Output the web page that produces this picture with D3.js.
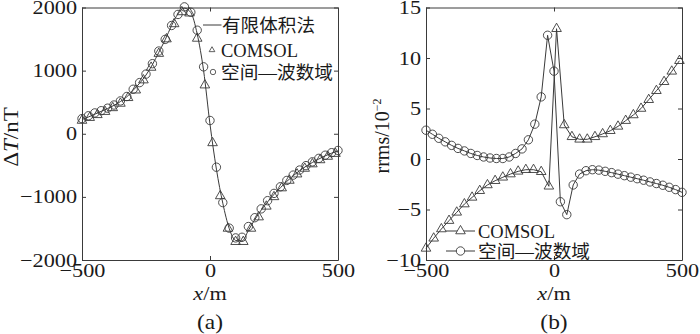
<!DOCTYPE html>
<html>
<head>
<meta charset="utf-8">
<script src="https://cdn.jsdelivr.net/npm/d3@7/dist/d3.min.js"></script>
<style>
  body { margin: 0; background: #fff; }
  svg { display: block; font-family: "Liberation Serif", "Times New Roman", Times, serif; }
  .cn { font-family: "Liberation Serif", "Noto Sans CJK SC", serif; }
</style>
</head>
<body>
<svg id="chart" width="700" height="334"></svg>
<script>
// 横坐标
const xTicks = [-500, 0, 500];
const dtTicks = [-2000, -1000, 0, 1000, 2000];
const rTicks = [-10, -5, 0, 5, 10, 15];

// 空间-波数域 / 有限体积法 采样点 (25 m)
const x25 = [-500, -475, -450, -425, -400, -375, -350, -325, -300, -275, -250, -225, -200, -175, -150, -125, -100, -75, -50, -25,
  0, 25, 50, 75, 100, 125, 150, 175, 200, 225, 250, 275, 300, 325, 350, 375, 400, 425, 450, 475, 500];
// COMSOL 采样点 (30 m)
const x30 = [-500, -470, -440, -410, -380, -350, -320, -290, -260, -230, -200, -170, -140, -110, -80, -50, -20,
  10, 40, 70, 100, 130, 160, 190, 220, 250, 280, 310, 340, 370, 400, 430, 460, 490];

// (a) ΔT/nT
const dtFvm = [225, 265, 310, 355, 400, 450, 510, 585, 690, 800, 930, 1095, 1290, 1490, 1715, 1900, 1990, 1920, 1580, 1000,
  150, -560, -1100, -1500, -1690, -1700, -1530, -1360, -1210, -1080, -960, -855, -755, -665, -585, -515, -455, -400, -350, -308, -272];
const dtComsol = [210, 255, 300, 350, 410, 480, 570, 690, 850, 1050, 1270, 1500, 1740, 1930, 1910, 1510, 770,
  -145, -985, -1500, -1710, -1710, -1500, -1320, -1150, -1000, -860, -740, -640, -550, -480, -415, -360, -315];
const dtSpace = [240, 285, 330, 365, 405, 455, 520, 590, 705, 810, 945, 1110, 1310, 1495, 1715, 1890, 2010, 1925, 1640, 1060,
  210, -530, -1090, -1495, -1650, -1640, -1470, -1330, -1190, -1060, -945, -840, -740, -655, -575, -505, -445, -390, -340, -300, -265];

// (b) rrms/10^-2
const rComsol = [-8.85, -7.85, -6.93, -6.1, -5.28, -4.46, -3.8, -3.14, -2.57, -2.15, -1.81, -1.49, -1.22, -1.06, -1.06, -1.26, -2.7,
  12.9, 3.37, 2.2, 1.95, 1.95, 2.2, 2.48, 2.8, 3.23, 3.8, 4.36, 5.0, 5.87, 6.76, 7.65, 8.68, 9.73];
const rSpace = [2.85, 2.45, 2.05, 1.7, 1.35, 1.05, 0.8, 0.55, 0.35, 0.2, 0.1, 0.05, 0.05, 0.2, 0.55, 1.0, 1.9, 3.45, 6.15, 12.25,
  8.7, -4.23, -5.51, -2.57, -1.49, -1.16, -1.06, -1.1, -1.22, -1.35, -1.5, -1.65, -1.8, -1.95, -2.1, -2.27, -2.43, -2.6, -2.8, -3.03, -3.3];

const ink = '#3a3a3a';
const txt = '#1a1a1a';
const sx = 1.17; // 横向拉伸
const svg = d3.select('#chart');

const triangle = d3.symbol().type(d3.symbolTriangle).size(40);
const triangleSmall = d3.symbol().type(d3.symbolTriangle).size(14);
const fmt = d => d < 0 ? '\u2212' + Math.abs(d) : String(d);

/*坐标框*/
function frame(x, y, yTicks) {
  let g = svg.append('g');
  let [x0, x1] = x.range();
  let [y0, y1] = y.range();

  let bottom = g.append('g').attr('transform', `translate(0,${y0})`)
    .call(d3.axisBottom(x).tickValues(xTicks).tickSize(-4).tickSizeOuter(0).tickFormat(fmt));
  bottom.selectAll('text').attr('y', 4).attr('dy', '0.71em');

  let left = g.append('g').attr('transform', `translate(${x0},0)`)
    .call(d3.axisLeft(y).tickValues(yTicks).tickSize(-4).tickSizeOuter(0).tickFormat(fmt));
  left.selectAll('text').attr('x', -5 / sx);

  g.append('g').attr('transform', `translate(0,${y1})`)
    .call(d3.axisTop(x).tickValues(xTicks).tickSize(-4).tickSizeOuter(0).tickFormat(''));
  g.append('g').attr('transform', `translate(${x1},0)`)
    .call(d3.axisRight(y).tickValues(yTicks).tickSize(-4).tickSizeOuter(0).tickFormat(''));

  g.selectAll('path.domain').attr('stroke', ink).attr('stroke-width', 1);
  g.selectAll('.tick line').attr('stroke', ink);
  g.selectAll('.tick text')
    .attr('fill', txt)
    .attr('font-size', 19)
    .attr('font-family', '"Liberation Serif", serif')
    .attr('transform', `scale(${sx},1)`);
  return g;
}

function drawCircles(x, y, xs, vals) {
  svg.append('g').selectAll('circle')
    .data(vals)
    .enter()
    .append('circle')
    .attr('cx', (d, i) => x(xs[i]))
    .attr('cy', d => y(d))
    .attr('r', 4.2)
    .attr('fill', 'none')
    .attr('stroke', ink)
    .attr('stroke-width', 0.9);
}

function drawTriangles(x, y, xs, vals) {
  svg.append('g').selectAll('path')
    .data(vals)
    .enter()
    .append('path')
    .attr('d', triangle)
    .attr('transform', (d, i) => `translate(${x(xs[i])},${y(d)})`)
    .attr('fill', 'none')
    .attr('stroke', ink)
    .attr('stroke-width', 0.9);
}

function drawLine(x, y, xs, vals, curve) {
  svg.append('path')
    .datum(vals)
    .attr('fill', 'none')
    .attr('stroke', ink)
    .attr('stroke-width', 1)
    .attr('d', d3.line().x((d, i) => x(xs[i])).y(d => y(d)).curve(curve));
}

// 图例文字，宽度按原图固定
function label(x, y, text, width, cls) {
  return svg.append('text')
    .attr('class', cls || null)
    .attr('x', x).attr('y', y).attr('dy', '0.36em')
    .attr('font-size', 18.5)
    .attr('textLength', width)
    .attr('lengthAdjust', 'spacingAndGlyphs')
    .attr('fill', txt)
    .text(text);
}

function xTitle(cx, tag) {
  let t = svg.append('text')
    .attr('transform', `translate(${cx},300) scale(${sx},1)`)
    .attr('text-anchor', 'middle')
    .attr('font-size', 19)
    .attr('fill', txt);
  t.append('tspan').style('font-style', 'italic').text('x');
  t.append('tspan').text('/m');

  svg.append('text')
    .attr('transform', `translate(${cx},329) scale(${sx},1)`)
    .attr('text-anchor', 'middle')
    .attr('font-size', 20)
    .attr('fill', txt)
    .text(tag);
}

/* ---------- (a) ---------- */
const xa = d3.scaleLinear().domain([-500, 500]).range([82, 338]);
const ya = d3.scaleLinear().domain([-2000, 2000]).range([260, 7.5]);

frame(xa, ya, dtTicks);
drawLine(xa, ya, x25, dtFvm, d3.curveMonotoneX);
drawTriangles(xa, ya, x30, dtComsol);
drawCircles(xa, ya, x25, dtSpace);

let yla = svg.append('text')
  .attr('transform', `translate(18,137) rotate(-90) scale(1.15,1)`)
  .attr('text-anchor', 'middle')
  .attr('font-size', 20)
  .attr('fill', txt);
yla.append('tspan').text('Δ');
yla.append('tspan').style('font-style', 'italic').text('T');
yla.append('tspan').text('/nT');

xTitle(210, '(a)');

// 图例 (a)
svg.append('line').attr('x1', 203).attr('x2', 221.5).attr('y1', 25).attr('y2', 25)
  .attr('stroke', ink).attr('stroke-width', 1);
label(222, 25, '有限体积法', 93, 'cn');
svg.append('path').attr('d', triangleSmall).attr('transform', 'translate(212,50)')
  .attr('fill', 'none').attr('stroke', ink).attr('stroke-width', 0.8);
label(221, 50, 'COMSOL', 77);
svg.append('circle').attr('cx', 213).attr('cy', 72).attr('r', 2.7)
  .attr('fill', 'none').attr('stroke', ink).attr('stroke-width', 0.8);
label(221, 72, '空间—波数域', 112, 'cn');

/* ---------- (b) ---------- */
const xb = d3.scaleLinear().domain([-500, 500]).range([426, 682]);
const yb = d3.scaleLinear().domain([-10, 15]).range([260, 7.5]);

frame(xb, yb, rTicks);
drawLine(xb, yb, x30, rComsol, d3.curveLinear);
drawLine(xb, yb, x25, rSpace, d3.curveLinear);
drawTriangles(xb, yb, x30, rComsol);
drawCircles(xb, yb, x25, rSpace);

let ylb = svg.append('text')
  .attr('transform', `translate(389,136) rotate(-90)`)
  .attr('text-anchor', 'middle')
  .attr('font-size', 20)
  .attr('fill', txt);
ylb.append('tspan').text('rrms/10');
ylb.append('tspan').attr('dy', -8).attr('font-size', 12).text('−2');

xTitle(554, '(b)');

// 图例 (b)
[['COMSOL', 231, 'tri', 77], ['空间—波数域', 251, 'cir', 112]].forEach(([name, yy, m, w]) => {
  svg.append('line').attr('x1', 446).attr('x2', 475).attr('y1', yy).attr('y2', yy)
    .attr('stroke', ink).attr('stroke-width', 1);
  if (m === 'tri') {
    svg.append('path').attr('d', triangle).attr('transform', `translate(460.5,${yy})`)
      .attr('fill', '#fff').attr('stroke', ink).attr('stroke-width', 0.9);
  } else {
    svg.append('circle').attr('cx', 460.5).attr('cy', yy).attr('r', 4.2)
      .attr('fill', '#fff').attr('stroke', ink).attr('stroke-width', 0.9);
  }
  label(478, yy, name, w, m === 'cir' ? 'cn' : null);
});
</script>
</body>
</html>
